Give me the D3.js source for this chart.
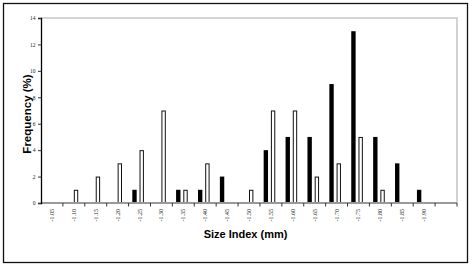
<!DOCTYPE html>
<html>
<head>
<meta charset="utf-8">
<script src="https://cdn.jsdelivr.net/npm/d3@7"></script>
<style>
  body { margin: 0; background: #fff; }
</style>
</head>
<body>
<div id="chart1"></div>
<script>
// size classes, last band has no label on the original
const categories = ["-1.05","-1.10","-1.15","-1.20","-1.25","-1.30","-1.35","-1.40","-1.45",
  "-1.50","-1.55","-1.60","-1.65","-1.70","-1.75","-1.80","-1.85","-1.90","-1.95"];
const tickLabels = ["-1.05","-1.10","-1.15","-1.20","-1.25","-1.30","-1.35","-1.40","-1.45",
  "-1.50","-1.55","-1.60","-1.65","-1.70","-1.75","-1.80","-1.85","-1.90",""];
const blackSeries = [0,0,0,0,1,0,1,1,2,0,4,5,5,9,13,5,3,1,0];
const whiteSeries = [0,1,2,3,4,7,1,3,0,1,7,7,2,3,5,1,0,0,0];
const yTicks = [0,2,4,6,8,10,12,14];

const W = 473, H = 270;
const margin = {top: 18, right: 16, bottom: 67, left: 41},
    width = W - margin.left - margin.right,
    height = H - margin.top - margin.bottom;

const root = d3.select("#chart1")
  .append("svg")
    .attr("width", W)
    .attr("height", H);

// outer frame
root.append("rect")
  .attr("x", 3.5).attr("y", 3.5)
  .attr("width", 464).attr("height", 259)
  .attr("fill", "none")
  .attr("stroke", "#111")
  .attr("stroke-width", 1.3);

const svg = root.append("g")
  .attr("transform", `translate(${margin.left},${margin.top})`);

const x = d3.scaleBand()
  .domain(categories)
  .range([0, width]);

const y = d3.scaleLinear()
  .domain([0, 14])
  .range([height, 0]);

// plot area border (top + right, grey)
svg.append("path")
  .attr("d", `M0,0H${width}V${height}`)
  .attr("fill", "none")
  .attr("stroke", "#c8c8c8")
  .attr("stroke-width", 1.6);

const bw = x.bandwidth();

svg.append("g")
  .selectAll("rect")
  .data(categories)
  .join("rect")
    .attr("x", (d, i) => x(d) + bw * 0.17)
    .attr("y", (d, i) => y(blackSeries[i]))
    .attr("width", bw * 0.2)
    .attr("height", (d, i) => height - y(blackSeries[i]))
    .attr("fill", "#000");

svg.append("g")
  .selectAll("rect")
  .data(categories)
  .join("rect")
    .attr("x", (d, i) => x(d) + bw * 0.5 + 0.5)
    .attr("y", (d, i) => y(whiteSeries[i]) + 0.5)
    .attr("width", bw * 0.2 - 1)
    .attr("height", (d, i) => Math.max(0, height - y(whiteSeries[i]) - 0.5))
    .attr("fill", "#fff")
    .attr("stroke", "#111")
    .attr("stroke-width", 1)
    .style("display", (d, i) => whiteSeries[i] > 0 ? null : "none");

// x axis: baseline, boundary ticks, rotated labels
const xAxis = svg.append("g")
  .attr("transform", `translate(0, ${height})`);

xAxis.append("line")
  .attr("x1", 0).attr("x2", width)
  .attr("stroke", "#999")
  .attr("stroke-width", 2);

xAxis.selectAll(".bt")
  .data(categories.slice(1).map(c => x(c)).concat([width]))
  .join("line")
    .attr("class", "bt")
    .attr("x1", d => d).attr("x2", d => d)
    .attr("y1", 0).attr("y2", 3.5)
    .attr("stroke", "#333")
    .attr("stroke-width", 1);

xAxis.selectAll("text")
  .data(categories)
  .join("text")
    .attr("transform", (d) => `translate(${x(d) + bw / 2 + 2},6) rotate(-90)`)
    .attr("text-anchor", "end")
    .attr("font-family", "Liberation Serif, serif")
    .attr("font-size", "6px")
    .attr("fill", "#222")
    .text((d, i) => tickLabels[i]);

// y axis
svg.append("g")
  .call(d3.axisLeft(y).tickValues(yTicks).tickSize(3).tickPadding(2.5))
  .call(g => g.select(".domain").attr("stroke", "#000").attr("stroke-width", 1.3))
  .call(g => g.selectAll(".tick line").attr("stroke", "#333"))
  .call(g => g.selectAll(".tick text")
    .attr("font-family", "Liberation Serif, serif")
    .attr("font-size", "5.5px")
    .attr("fill", "#222"));

// titles
root.append("text")
  .attr("x", 245.5)
  .attr("y", 238)
  .attr("text-anchor", "middle")
  .attr("font-family", "Liberation Sans, Arial, sans-serif")
  .attr("font-weight", "bold")
  .attr("font-size", "11px")
  .text("Size Index (mm)");

root.append("text")
  .attr("transform", "translate(30.5,114) rotate(-90)")
  .attr("text-anchor", "middle")
  .attr("font-family", "Liberation Sans, Arial, sans-serif")
  .attr("font-weight", "bold")
  .attr("font-size", "11.5px")
  .text("Frequency (%)");
</script>
</body>
</html>
